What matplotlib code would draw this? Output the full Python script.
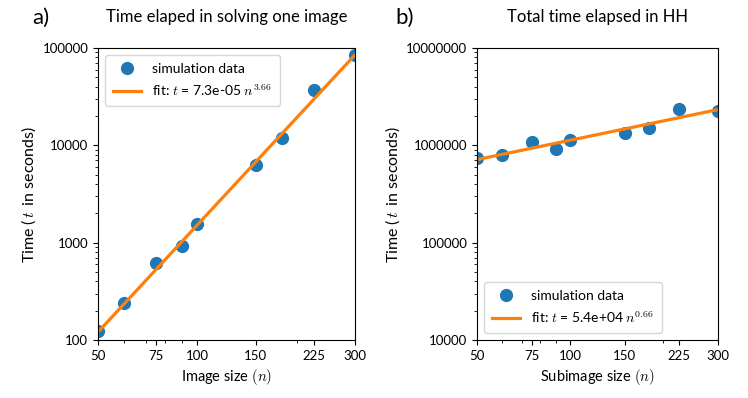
import matplotlib
matplotlib.use("Agg")
import matplotlib.pyplot as plt
import numpy as np
from matplotlib.ticker import FixedLocator, FixedFormatter, LogLocator, NullFormatter

plt.rcParams['mathtext.fontset'] = 'cm'
plt.rcParams['font.family'] = ['Lato', 'DejaVu Sans']

n_a = [50, 60, 75, 90, 100, 150, 180, 225, 300]
t_a = [124, 240, 620, 925, 1550, 6300, 11900, 37000, 85000]
fit_a = (7.3e-05, 3.66)

n_b = [50, 60, 75, 90, 100, 150, 180, 225, 300]
t_b = [742000, 796000, 1070000, 918000, 1135000, 1350000, 1500000, 2350000, 2270000]
fit_b = (5.4e+04, 0.66)

xticks = [50, 75, 100, 150, 225, 300]
yticks_a = [100, 1000, 10000, 100000]
yticks_b = [10000, 100000, 1000000, 10000000]

W, H = 748, 398
fig = plt.figure(figsize=(W/100, H/100), dpi=100)
ax1 = fig.add_axes([98/W, 1-340/H, 257/W, 292/H])
ax2 = fig.add_axes([477/W, 1-340/H, 241/W, 292/H])

def panel(ax, n, t, fit, yticks, title, letter, letter_x, ylab_x, xlabel, legloc, fitlabel):
    nn = np.array(n, dtype=float)
    ax.plot(n, t, 'o', color='#1f77b4', markersize=8.5, label='simulation data')
    ax.plot(nn, fit[0]*nn**fit[1], '-', color='#ff7f0e', lw=2.3, label=fitlabel)
    ax.set_xscale('log')
    ax.set_yscale('log')
    ax.set_xlim(50, 300)
    ax.set_ylim(yticks[0], yticks[-1])
    ax.xaxis.set_major_locator(FixedLocator(xticks))
    ax.xaxis.set_major_formatter(FixedFormatter([str(v) for v in xticks]))
    ax.xaxis.set_minor_locator(LogLocator(base=10, subs=np.arange(2, 10)))
    ax.xaxis.set_minor_formatter(NullFormatter())
    ax.yaxis.set_major_locator(FixedLocator(yticks))
    ax.yaxis.set_major_formatter(FixedFormatter([str(v) for v in yticks]))
    ax.yaxis.set_minor_locator(LogLocator(base=10, subs=np.arange(2, 10)))
    ax.yaxis.set_minor_formatter(NullFormatter())
    ax.tick_params(labelsize=9.5)
    ax.set_xlabel(xlabel + r' $(n)$', fontsize=10.5)
    ax.set_ylabel(r'Time ($\,t\,$ in seconds)', fontsize=11.5)
    ax.yaxis.set_label_coords(ylab_x, 0.5)
    ax.set_title(title, fontsize=12, pad=18.5)
    fig.text(letter_x/W, 1-24/H, letter, fontsize=16, ha='left', va='baseline')
    ax.legend(loc=legloc, fontsize=10, borderpad=0.6)

panel(ax1, n_a, t_a, fit_a, yticks_a, 'Time elaped in solving one image', 'a)', 32,
      (38-98)/257, 'Image size', 'upper left', r'fit: $t$ = 7.3e-05 $n^{3.66}$')
panel(ax2, n_b, t_b, fit_b, yticks_b, 'Total time elapsed in HH', 'b)', 395,
      (402-477)/241, 'Subimage size', 'lower left', r'fit: $t$ = 5.4e+04 $n^{0.66}$')

fig.savefig('out.png', dpi=100)
